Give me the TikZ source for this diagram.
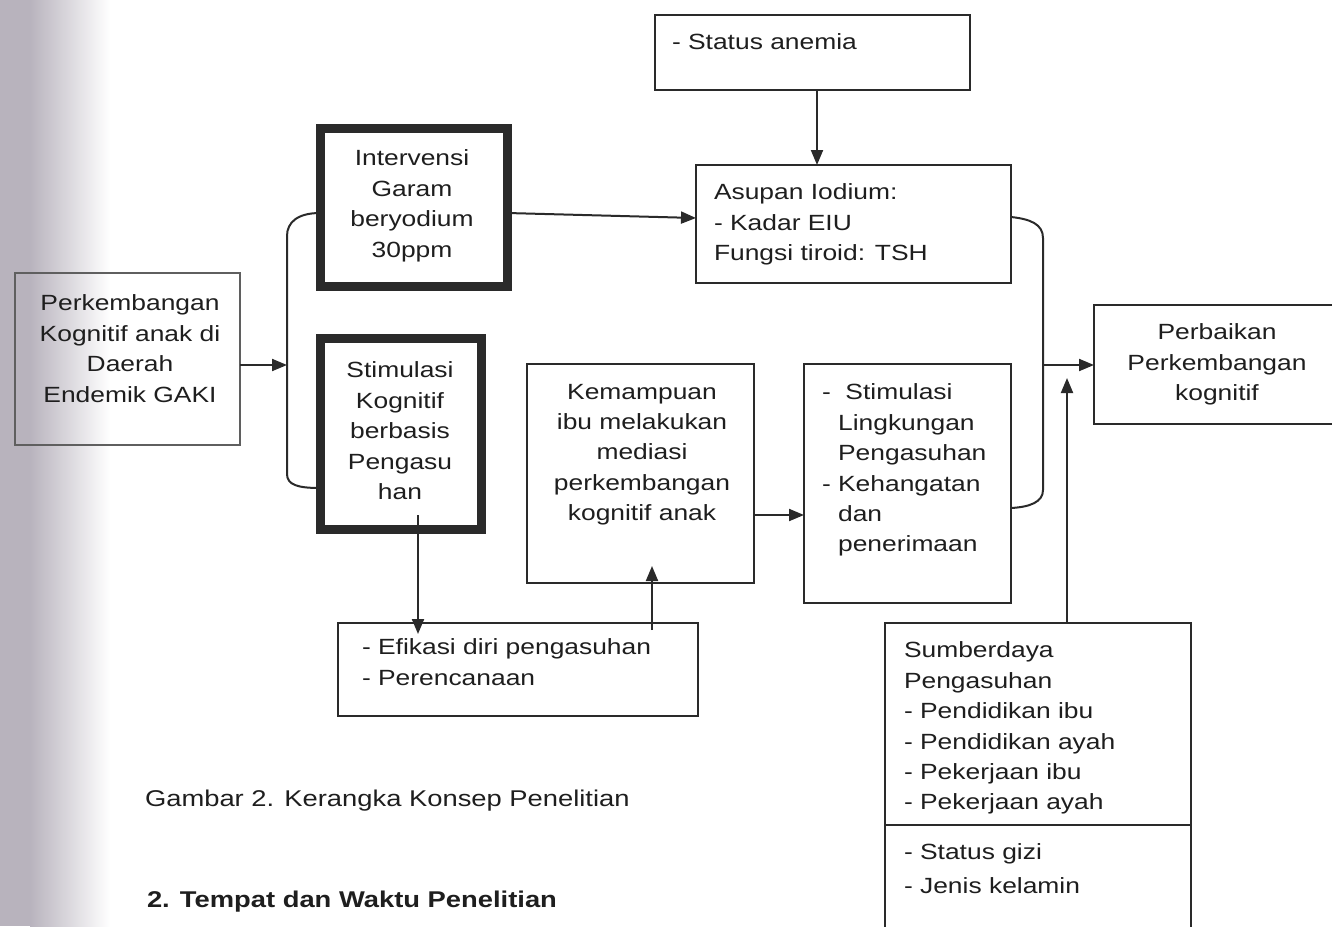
\documentclass[tikz,border=0pt]{standalone}
\usepackage{fontspec}
\setmainfont{Liberation Sans}[FakeStretch=1.2]
\usetikzlibrary{arrows.meta,calc}
\definecolor{linecol}{HTML}{2A2A2A}
\definecolor{textcol}{HTML}{1E1E1E}
\definecolor{scangray}{RGB}{172,166,178}
\newcommand\mainfs{\fontsize{11}{15.2}\selectfont}
\tikzset{
  box/.style={draw=linecol, line width=1pt, inner sep=0pt, outer sep=0pt, anchor=north west},
  thickbox/.style={box, line width=4.5pt},
  txt/.style={inner sep=0pt, outer sep=0pt, font=\mainfs, text=textcol, align=left, anchor=north west},
  ctxt/.style={txt, align=center, anchor=north},
  arr/.style={draw=linecol, line width=1pt, -{Triangle[length=7.5pt,width=6pt]}},
  con/.style={draw=linecol, line width=1pt}
}
\begin{document}
\begin{tikzpicture}[x=0.5pt, y=-0.5pt]
\useasboundingbox (0,0) rectangle (1332,926);
% scan shading at left edge
\fill[scangray!85] (0,0) rectangle (30,926);
\shade[left color=scangray!85, right color=white] (30,0) rectangle (110,926);

% boxes
\node[box, minimum width=157.5pt, minimum height=37.5pt] (sa) at (655,15) {};
\node[box, minimum width=157.5pt, minimum height=59pt] (asu) at (696,165) {};
\node[box, draw=linecol!75, minimum width=112.5pt, minimum height=86pt] (lft) at (15,273) {};
\node[thickbox, minimum width=93.5pt, minimum height=79pt] (int) at (320,128) {};
\node[thickbox, minimum width=80.5pt, minimum height=95.5pt] (stk) at (320,338) {};
\node[box, minimum width=113.5pt, minimum height=109.5pt] (kem) at (527,364) {};
\node[box, minimum width=103.5pt, minimum height=119.5pt] (stl) at (804,364) {};
\node[box, minimum width=125pt, minimum height=59.5pt] (perb) at (1094,305) {};
\node[box, minimum width=180pt, minimum height=46.5pt] (efi) at (338,623) {};
\node[box, minimum width=153pt, minimum height=101pt] (sum) at (885,623) {};
\node[box, minimum width=153pt, minimum height=60pt] (sumb) at (885,825) {};

% texts
\node[txt] (tsa) at (672,34) {- Status anemia};
\node[txt] (tasu) at (714,184) {Asupan Iodium:\\- Kadar EIU\\Fungsi tiroid: TSH};
\node[ctxt] (tlft) at (130,295) {Perkembangan\\Kognitif anak di\\Daerah\\Endemik GAKI};
\node[ctxt] (tint) at (412,150) {Intervensi\\Garam\\beryodium\\30ppm};
\node[ctxt] (tstk) at (400,362) {Stimulasi\\Kognitif\\berbasis\\Pengasu\\han};
\node[ctxt] (tkem) at (642,384) {Kemampuan\\ibu melakukan\\mediasi\\perkembangan\\kognitif anak};
\node[txt] (tstl) at (822,384) {-\ \ Stimulasi\\\phantom{- }Lingkungan\\\phantom{- }Pengasuhan\\- Kehangatan\\\phantom{- }dan\\\phantom{- }penerimaan};
\node[ctxt] (tperb) at (1217,324) {Perbaikan\\Perkembangan\\kognitif};
\node[txt] (tefi) at (362,639) {- Efikasi diri pengasuhan\\- Perencanaan};
\node[txt] (tsum) at (904,642) {Sumberdaya\\Pengasuhan\\- Pendidikan ibu\\- Pendidikan ayah\\- Pekerjaan ibu\\- Pekerjaan ayah};
\node[txt, font=\fontsize{11}{17}\selectfont] (tsumb) at (904,844) {- Status gizi\\- Jenis kelamin};
\node[txt, font=\fontsize{11.4}{15}\selectfont] (cap) at (145,790) {Gambar 2. Kerangka Konsep Penelitian};
\node[txt, font=\fontsize{11.4}{15}\selectfont\bfseries] (head) at (147,891) {2. Tempat dan Waktu Penelitian};

% brace coordinates
\coordinate (lbx) at (287,365);
\coordinate (rbx) at (1043,365);
\coordinate (tipS) at (1067,378);

% connectors
\draw[arr] (lft.east |- lbx) -- (lbx);
\draw[con] (int.west |- 0,213) .. controls (298,213) and (287,222) .. (287,236) -- (287,474) .. controls (287,485) and (298,488) .. (stk.west |- 0,488);
\draw[arr] (int.east |- 0,213) -- (asu.west |- 0,218);
\draw[arr] (sa.south -| 817,0) -- (asu.north -| 817,0);
\draw[con] (asu.east |- 0,217) .. controls (1030,219) and (1043,224) .. (1043,238) -- (1043,490) .. controls (1043,502) and (1030,507) .. (stl.east |- 0,508);
\draw[arr] (rbx) -- (perb.west |- rbx);
\draw[arr] (sum.north -| tipS) -- (tipS);
\draw[arr] (kem.east |- 0,515) -- (stl.west |- 0,515);
\draw[arr] (418,515) -- ($(efi.north -| 418,0)+(0,11)$);
\draw[arr] ($(efi.north -| 652,0)+(0,7)$) -- ($(kem.south -| 652,0)+(0,-17)$);
\end{tikzpicture}
\end{document}
